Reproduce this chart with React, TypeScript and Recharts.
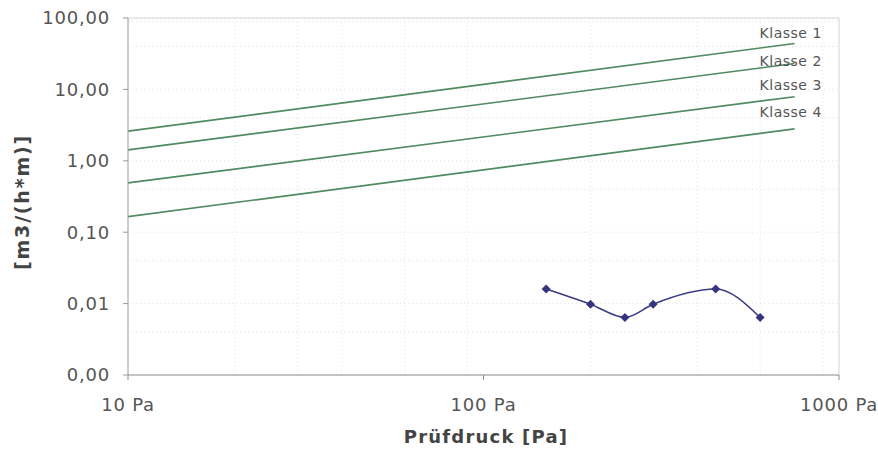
import { LineChart, Line, XAxis, YAxis, CartesianGrid, ReferenceLine, LabelList } from 'recharts';

// Prüfdruck [Pa] der Messpunkte
const pressures = [150, 200, 250, 300, 450, 600];
// gemessene Luftdurchlässigkeit [m3/(h*m)]
const leakage = [0.016, 0.0098, 0.0064, 0.0098, 0.016, 0.0064];

// Klassengrenzen: Anfang und Ende jeder Linie
const classPressures = [10, 750];
const klasse1 = [2.6, 44];
const klasse2 = [1.42, 23];
const klasse3 = [0.49, 7.9];
const klasse4 = [0.165, 2.8];
const classNames = ['Klasse 1', 'Klasse 2', 'Klasse 3', 'Klasse 4'];

const xTicks = [10, 100, 1000];
const yTicks = [0.001, 0.01, 0.1, 1, 10, 100];

const measured = pressures.map((p, i) => ({ p, v: leakage[i] }));
const classSeries = [klasse1, klasse2, klasse3, klasse4].map((vals) =>
  classPressures.map((p, i) => ({ p, v: vals[i] }))
);

// feines Raster (2..9 je Dekade)
const minorX = [10, 100].flatMap((d) => [2, 3, 4, 5, 6, 7, 8, 9].map((m) => m * d));
const minorY = [0.001, 0.01, 0.1, 1, 10].flatMap((d) => [1, 2, 3, 4, 5, 6, 7, 8, 9].map((m) => m * d));

const FONT = '"DejaVu Sans", Verdana, sans-serif';
const labelOffsets = [-10, -2, -12, -17];

const Diamond = (props: any) => {
  const { cx, cy, index } = props;
  if (cx == null || cy == null) return null;
  const r = 4.5;
  return (
    <polygon
      key={`d-${index}`}
      points={`${cx},${cy - r} ${cx + r},${cy} ${cx},${cy + r} ${cx - r},${cy}`}
      fill="#35357f"
    />
  );
};

const fmtY = (v: number) => v.toFixed(2).replace('.', ',');

export default function App() {
  return (
    <div style={{ width: 878, height: 452, background: '#fff' }}>
      <style>{'body{margin:0}'}</style>
      <LineChart width={878} height={452} margin={{ top: 18, right: 39, bottom: 0, left: 0 }}>
        <CartesianGrid
          horizontalValues={minorY}
          verticalValues={minorX}
          stroke="#e2e2e2"
          strokeDasharray="1 3"
        />
        <XAxis
          dataKey="p"
          type="number"
          scale="log"
          domain={[10, 1000]}
          ticks={xTicks}
          allowDataOverflow
          height={77}
          stroke="#8c8c8c"
          tickSize={5}
          tickMargin={18}
          tick={{ fill: '#555', fontSize: 18, fontFamily: FONT, letterSpacing: 0.8 }}
          tickFormatter={(v: number) => `${v} Pa`}
          label={{
            content: () => (
              <text
                x={486}
                y={443}
                textAnchor="middle"
                fill="#444"
                fontSize={18}
                fontWeight="bold"
                fontFamily={FONT}
                letterSpacing={1.2}
              >
                Prüfdruck [Pa]
              </text>
            ),
          }}
        />
        <YAxis
          dataKey="v"
          type="number"
          scale="log"
          domain={[0.001, 100]}
          ticks={yTicks}
          allowDataOverflow
          width={128}
          stroke="#9a9a9a"
          tickSize={5}
          tickMargin={13}
          tick={{ fill: '#555', fontSize: 18, fontFamily: FONT, letterSpacing: 0.8 }}
          tickFormatter={fmtY}
          label={{
            content: () => (
              <text
                transform="translate(29,202) rotate(-90)"
                textAnchor="middle"
                fill="#444"
                fontSize={19}
                fontWeight="bold"
                fontFamily={FONT}
                letterSpacing={1.8}
              >
                [m3/(h*m)]
              </text>
            ),
          }}
        />
        <ReferenceLine y={100} stroke="#d4d4d4" />
        <ReferenceLine x={1000} stroke="#d4d4d4" />
        {classSeries.map((data, k) => (
          <Line
            key={classNames[k]}
            data={data}
            dataKey="v"
            type="linear"
            stroke="#4f8a60"
            strokeWidth={1.6}
            dot={false}
            isAnimationActive={false}
          >
            <LabelList
              dataKey="v"
              content={(props: any) => {
                if (props.index !== data.length - 1) return null;
                return (
                  <text
                    x={props.x - 35}
                    y={props.y + labelOffsets[k]}
                    dy="0.35em"
                    fill="#555"
                    fontSize={14}
                    fontFamily={FONT}
                    letterSpacing={0.5}
                  >
                    {classNames[k]}
                  </text>
                );
              }}
            />
          </Line>
        ))}
        <Line
          data={measured}
          dataKey="v"
          type="monotone"
          stroke="#3b3b85"
          strokeWidth={1.5}
          dot={<Diamond />}
          isAnimationActive={false}
        />
      </LineChart>
    </div>
  );
}
